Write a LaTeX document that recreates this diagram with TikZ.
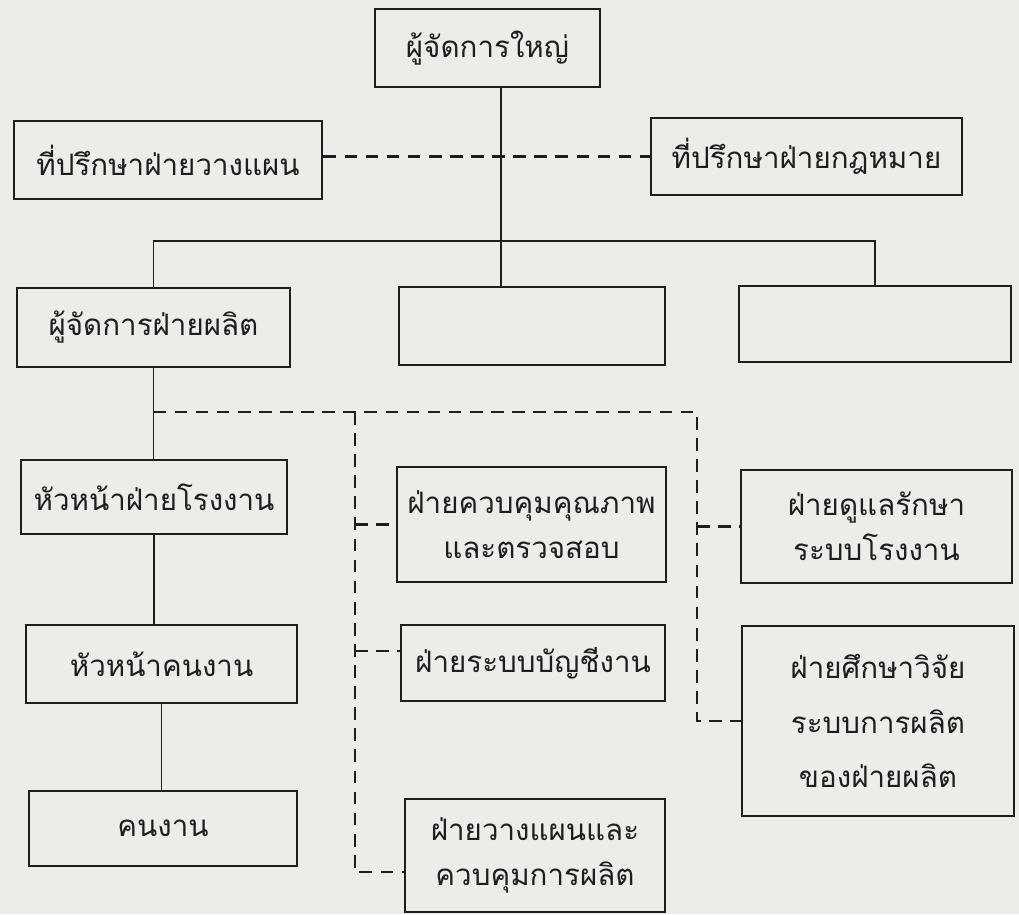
\documentclass[tikz,border=0pt]{standalone}
\usepackage{fontspec}
\newfontfamily\thaifont[Script=Thai]{Loma}
\usetikzlibrary{positioning,calc}
\definecolor{paper}{RGB}{236,236,233}
\definecolor{ink}{RGB}{30,30,30}

\tikzset{
  unit/.style 2 args={draw=ink, line width=2pt, minimum width=#1*0.025cm, minimum height=#2*0.025cm,
    inner sep=0pt, align=center, text=ink, font=\thaifont\fontsize{21}{32}\selectfont},
  link/.style={draw=ink, line width=1.4pt},
  staff/.style={draw=ink, line width=1.6pt, dash pattern=on 9pt off 6pt},
}

\begin{document}
\begin{tikzpicture}[x=0.025cm, y=-0.025cm]
      \path[use as bounding box, fill=paper] (0,0) rectangle (1019,914);

      \node[unit={225}{78}] (gm) at (487.5, 48) {ผู้จัดการใหญ่};
      \node[unit={308}{78}] (planadv) at (168, 160) {ที่ปรึกษาฝ่ายวางแผน};
      \node[unit={311}{77}] (lawadv) at (806.5, 156.5) {ที่ปรึกษาฝ่ายกฎหมาย};

      \node[unit={273}{79}] (prodmgr) at (153.5, 327.5) {ผู้จัดการฝ่ายผลิต};
      \node[unit={266}{78}] (blank1) at (532, 326) {};
      \node[unit={272}{76}] (blank2) at (875, 324) {};

      \node[unit={266}{74}] (plant) at (154, 497) {หัวหน้าฝ่ายโรงงาน};
      \node[unit={271}{78}] (foreman) at (161.5, 664) {หัวหน้าคนงาน};
      \node[unit={268}{75}] (workers) at (163, 828.5) {คนงาน};

      \node[unit={269}{115}] (qc) at (531.5, 524.5) {ฝ่ายควบคุมคุณภาพ\\และตรวจสอบ};
      \node[unit={264}{76}] (acct) at (533, 663) {ฝ่ายระบบบัญชีงาน};
      \node[unit={260}{113}] (planctl) at (535, 855.5) {ฝ่ายวางแผนและ\\ควบคุมการผลิต};

      \node[unit={271}{113}] (maint) at (876.5, 526.5) {ฝ่ายดูแลรักษา\\ระบบโรงงาน};
      \node[unit={272}{190}, font=\thaifont\fontsize{21}{39}\selectfont] (research) at (878, 721)
        {ฝ่ายศึกษาวิจัย\\ระบบการผลิต\\ของฝ่ายผลิต};

      \coordinate (bus) at (501, 241);
      \coordinate (staffL) at (355, 412);
      \coordinate (staffR) at (697, 412);

      % line of command
      \draw[link] (gm.south -| bus) -- (bus |- blank1.north);
      \draw[link] (prodmgr.north) |- (bus) -| (blank2.north);
      \draw[link] (prodmgr.south) -- (prodmgr.south |- plant.north);
      \draw[link] (plant.south) -- (plant.south |- foreman.north);
      \draw[link] (foreman.south) -- (foreman.south |- workers.north);

      % staff lines
      \draw[staff] (lawadv.west -| planadv.east) -- (lawadv.west);
      \draw[staff] (prodmgr.south |- staffL) -- (staffR) |- (research.west);
      \draw[staff] (staffL) |- (planctl.187);
      \draw[staff] (staffL |- qc.west) -- (qc.west);
      \draw[staff] (staffL |- acct.175) -- (acct.175);
      \draw[staff] (staffR |- maint.west) -- (maint.west);
    \end{tikzpicture}
\end{document}
